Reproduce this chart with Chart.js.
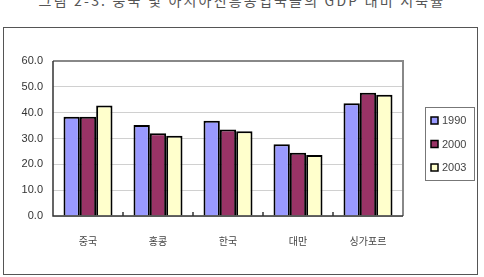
<!DOCTYPE html>
<html>
<head>
<meta charset="utf-8">
<script src="https://cdn.jsdelivr.net/npm/chart.js@4.4.4/dist/chart.umd.min.js"></script>
<style>
  html, body { margin: 0; padding: 0; background: #fff; overflow: hidden; }
  body { width: 484px; height: 277px; position: relative; }
  #title {
    position: absolute; left: 0; top: -7px; width: 484px; text-align: center;
    font: 14px "Noto Sans CJK KR", sans-serif; color: #555; letter-spacing: 2.2px;
    line-height: 15px; white-space: nowrap;
  }
  #frame {
    position: absolute; left: 3px; top: 27px; width: 473px; height: 246px;
    border: 1.5px solid #555;
  }
  #frame canvas { position: absolute; left: 0; top: 0; }
</style>
</head>
<body>
<div id="title">그림 2-3.  중국 및 아시아신흥공업국들의 GDP 대비 저축률</div>
<div id="frame"><canvas id="chart" width="473" height="246"></canvas></div>
<script>
// categories and series
const countries = ["중국", "홍콩", "한국", "대만", "싱가포르"];
const years = ["1990", "2000", "2003"];
const s1990 = [38.4, 35.2, 36.9, 27.8, 43.6];
const s2000 = [38.4, 32.0, 33.5, 24.5, 47.7];
const s2003 = [42.8, 31.1, 32.8, 23.6, 46.9];
const yTicks = [0, 10, 20, 30, 40, 50, 60];

const fills = ["#9999ff", "#993366", "#ffffcc"];
const FONT = "'Liberation Sans', 'Noto Sans CJK KR', sans-serif";

// plot frame, inward category ticks and the boxed legend
const excelBits = {
  id: "excelBits",
  afterDraw(chart) {
    const ctx = chart.ctx;
    const a = chart.chartArea;
    const x = chart.scales.x;
    ctx.save();
    ctx.strokeStyle = "#888";
    ctx.lineWidth = 2;
    ctx.beginPath();
    ctx.moveTo(a.left, a.top);
    ctx.lineTo(a.right, a.top);
    ctx.lineTo(a.right, a.bottom);
    ctx.stroke();

    ctx.strokeStyle = "#333";
    ctx.lineWidth = 1.5;
    ctx.beginPath();
    ctx.moveTo(a.left, a.top);
    ctx.lineTo(a.left, a.bottom);
    ctx.lineTo(a.right, a.bottom);
    for (let i = 1; i < countries.length; i++) {
      const bx = (x.getPixelForValue(i - 1) + x.getPixelForValue(i)) / 2;
      ctx.moveTo(bx, a.bottom);
      ctx.lineTo(bx, a.bottom - 4);
    }
    ctx.stroke();

    // legend
    const lx = 421, ly = 79, lw = 49, lh = 73;
    ctx.strokeStyle = "#777";
    ctx.lineWidth = 1;
    ctx.strokeRect(lx + 0.5, ly + 0.5, lw, lh);
    ctx.font = "11px " + FONT;
    ctx.textBaseline = "middle";
    chart.data.datasets.forEach((ds, i) => {
      const cy = ly + 14 + i * 23.5;
      ctx.fillStyle = ds.backgroundColor;
      ctx.fillRect(lx + 6, cy - 4, 7, 7);
      ctx.strokeStyle = "#000";
      ctx.lineWidth = 1.5;
      ctx.strokeRect(lx + 6, cy - 4, 7, 7);
      ctx.fillStyle = "#444";
      ctx.fillText(ds.label, lx + 17, cy);
    });
    ctx.restore();
  }
};

new Chart(document.getElementById("chart"), {
  type: "bar",
  data: {
    labels: countries,
    datasets: [s1990, s2000, s2003].map((d, i) => ({
      label: years[i],
      data: d,
      backgroundColor: fills[i],
      borderColor: "#000",
      borderWidth: 2,
      borderSkipped: "bottom",
      categoryPercentage: 0.7,
      barPercentage: 1.0
    }))
  },
  options: {
    responsive: false,
    animation: false,
    layout: { padding: { top: 33, left: 0, right: 74, bottom: 0 } },
    plugins: { legend: { display: false }, tooltip: { enabled: false } },
    scales: {
      x: {
        grid: { display: false },
        border: { display: false },
        ticks: { color: "#444", font: { size: 10, family: FONT }, padding: 12 },
        afterFit(s) { s.height = 58; }
      },
      y: {
        min: 0, max: 60,
        afterBuildTicks(s) { s.ticks = yTicks.map(v => ({ value: v })); },
        grid: { color: "#d0d0d0", lineWidth: 1, drawTicks: false },
        border: { display: false },
        ticks: {
          color: "#333", font: { size: 11, family: FONT }, padding: 10,
          callback: v => v.toFixed(1)
        },
        afterFit(s) { s.width = 49; }
      }
    }
  },
  plugins: [excelBits]
});
</script>
</body>
</html>
